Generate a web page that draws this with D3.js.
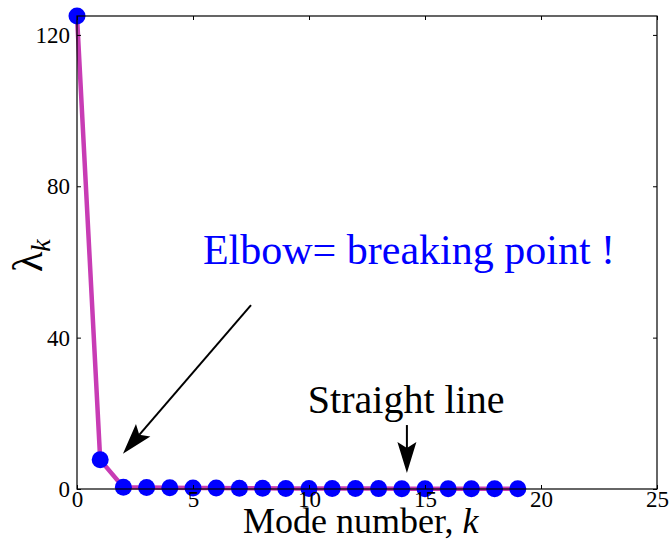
<!DOCTYPE html>
<html>
<head>
<meta charset="utf-8">
<script src="https://cdn.jsdelivr.net/npm/d3@7"></script>
<style>
  html, body { margin: 0; padding: 0; background: #fff; }
  svg { display: block; }
</style>
</head>
<body>
<svg id="chart" width="671" height="543"></svg>
<script>
// Eigenvalue spectrum: lambda_k for each mode k
const modes = [0, 1, 2, 3, 4, 5, 6, 7, 8, 9, 10, 11, 12, 13, 14, 15, 16, 17, 18, 19];
const lambdas = [125, 7.7, 0.45, 0.38, 0.32, 0.28, 0.24, 0.21, 0.18, 0.16, 0.14,
                 0.12, 0.11, 0.10, 0.09, 0.08, 0.07, 0.06, 0.05, 0.04];
const xTicks = [0, 5, 10, 15, 20, 25];
const yTicks = [0, 40, 80, 120];

const serif = "Liberation Serif";
const svg = d3.select("#chart");
const plotL = 77, plotR = 657, plotT = 16, plotB = 489;

const x = d3.scaleLinear().domain([0, 25]).range([plotL, plotR]);
const y = d3.scaleLinear().domain([0, 125]).range([plotB, plotT]);

const pts = modes.map((k, i) => ({ k, v: lambdas[i] }));

// spectrum line
svg.append("path")
  .datum(pts)
  .attr("fill", "none")
  .attr("stroke", "#c83cb4")
  .attr("stroke-width", 4.5)
  .attr("stroke-linejoin", "round")
  .attr("d", d3.line().x(d => x(d.k)).y(d => y(d.v)));

// markers
svg.append("g").selectAll("circle")
  .data(pts)
  .join("circle")
  .attr("cx", d => x(d.k))
  .attr("cy", d => y(d.v))
  .attr("r", 8.5)
  .attr("fill", "#0000ff");

// axes with inward ticks on all four sides
const fontSize = 23;
const gx = svg.append("g").attr("transform", `translate(0,${plotB})`)
  .call(d3.axisBottom(x).tickValues(xTicks).tickSizeInner(-4).tickSizeOuter(0).tickPadding(2));
const gy = svg.append("g").attr("transform", `translate(${plotL},0)`)
  .call(d3.axisLeft(y).tickValues(yTicks).tickSizeInner(-4).tickSizeOuter(0).tickPadding(7));
const gt = svg.append("g").attr("transform", `translate(0,${plotT})`)
  .call(d3.axisTop(x).tickValues(xTicks).tickSizeInner(-4).tickSizeOuter(0).tickFormat(""));
const gr = svg.append("g").attr("transform", `translate(${plotR},0)`)
  .call(d3.axisRight(y).tickValues(yTicks).tickSizeInner(-4).tickSizeOuter(0).tickFormat(""));

[gx, gy, gt, gr].forEach(g => {
  g.attr("font-family", serif).attr("font-size", fontSize);
  g.select(".domain").remove();
  g.selectAll(".tick line").attr("stroke", "#000").attr("stroke-width", 1);
  g.selectAll(".tick text").attr("fill", "#000");
});

// frame
svg.append("rect")
  .attr("x", plotL).attr("y", plotT)
  .attr("width", plotR - plotL).attr("height", plotB - plotT)
  .attr("fill", "none").attr("stroke", "#000").attr("stroke-width", 1.2);

// axis titles
svg.append("text")
  .attr("x", 243).attr("y", 533)
  .attr("font-family", serif)
  .attr("font-size", 36)
  .attr("fill", "#000")
  .text("Mode number, ")
  .append("tspan").attr("font-style", "italic").text("k");

const yl = svg.append("text")
  .attr("transform", "translate(42,272) rotate(-90)")
  .attr("font-family", serif)
  .attr("fill", "#000");
yl.append("tspan").attr("font-size", 42).text("λ");
yl.append("tspan").attr("dy", 8).attr("font-size", 28).attr("font-style", "italic").text("k");

// annotations
function arrow(x0, y0, x1, y1) {
  const dx = x1 - x0, dy = y1 - y0, len = Math.hypot(dx, dy);
  const ux = dx / len, uy = dy / len, px = -uy, py = ux;
  const L = 31, W = 9.5, N = 25;
  svg.append("line")
    .attr("x1", x0).attr("y1", y0)
    .attr("x2", x1 - ux * N).attr("y2", y1 - uy * N)
    .attr("stroke", "#000").attr("stroke-width", 2);
  const head = [
    [x1, y1],
    [x1 - ux * L + px * W, y1 - uy * L + py * W],
    [x1 - ux * N, y1 - uy * N],
    [x1 - ux * L - px * W, y1 - uy * L - py * W]
  ];
  svg.append("path")
    .attr("d", "M" + head.map(p => p.join(",")).join("L") + "Z")
    .attr("fill", "#000");
}

arrow(x(7.5), y(48.6), x(1.98), y(9.3));
arrow(x(14.22), y(16.9), x(14.22), y(4.2));

svg.append("text")
  .attr("x", x(5.43)).attr("y", y(59.5))
  .attr("font-family", serif)
  .attr("font-size", 42)
  .attr("fill", "#0000ff")
  .text("Elbow= breaking point !");

svg.append("text")
  .attr("x", x(9.95)).attr("y", y(20.1))
  .attr("font-family", serif)
  .attr("font-size", 40)
  .attr("fill", "#000")
  .text("Straight line");
</script>
</body>
</html>
